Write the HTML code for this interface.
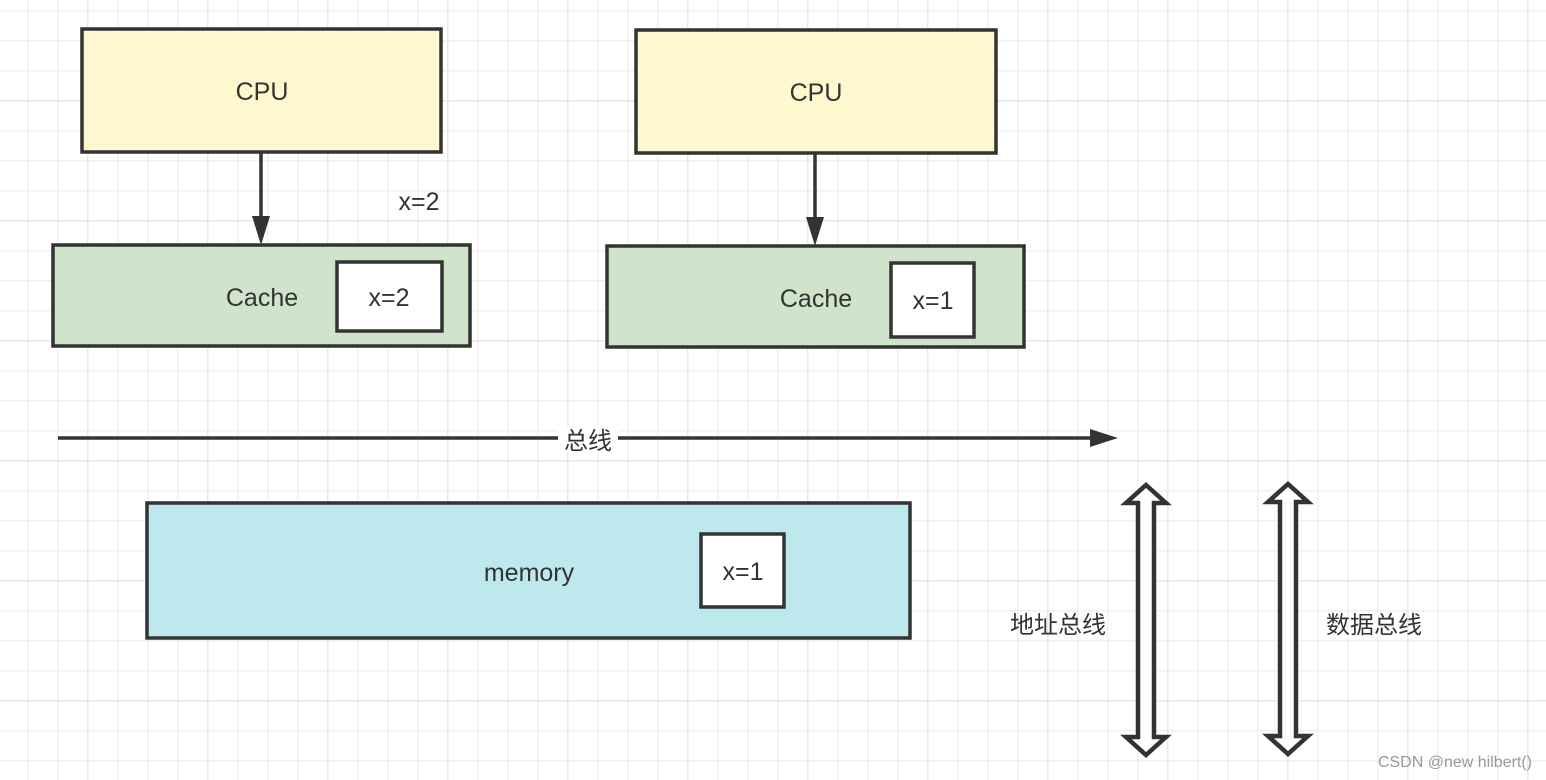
<!DOCTYPE html>
<html><head><meta charset="utf-8"><style>
body{margin:0;width:1546px;height:780px;overflow:hidden;background:#fff;font-family:"Liberation Sans","Noto Sans CJK SC",sans-serif;}
</style></head><body>
<svg width="1546" height="780" xmlns="http://www.w3.org/2000/svg" style="position:absolute;left:0;top:0">
<defs>
<pattern id="minor" x="27" y="10" width="30" height="30" patternUnits="userSpaceOnUse">
<path d="M0 0H30M0 0V30" stroke="#f1f1f1" stroke-width="3" fill="none"/></pattern>
<pattern id="major" x="87" y="100" width="120" height="120" patternUnits="userSpaceOnUse">
<path d="M0 0H120M0 0V120" stroke="#e8e8e8" stroke-width="3" fill="none"/></pattern>
</defs>
<rect width="1546" height="780" fill="url(#minor)"/>
<rect width="1546" height="780" fill="url(#major)"/>
<g stroke="#333" stroke-width="3.5">
<rect x="82" y="29" width="359" height="123" fill="#fff7cd"/>
<rect x="636" y="30" width="360" height="123" fill="#fff7cd"/>
<rect x="53" y="245" width="417" height="101" fill="#d0e4cc"/>
<rect x="607" y="246" width="417" height="101" fill="#d0e4cc"/>
<rect x="337" y="262" width="105" height="69" fill="#fff"/>
<rect x="891" y="263" width="83" height="74" fill="#fff"/>
<rect x="147" y="503" width="763" height="135" fill="#bde8ee"/>
<rect x="701" y="534" width="83" height="73" fill="#fff"/>
<line x1="261" y1="153" x2="261" y2="228"/>
<line x1="815" y1="154" x2="815" y2="229"/>
<line x1="58" y1="438" x2="1095" y2="438"/>
<path d="M1146 485 L1166 503 L1154 503 L1154 737 L1166 737 L1146 755 L1126 737 L1138 737 L1138 503 L1126 503 Z" fill="#fff" stroke-width="4.5" stroke-linejoin="miter"/>
<path d="M1288 484 L1308 502 L1296 502 L1296 736 L1308 736 L1288 754 L1268 736 L1280 736 L1280 502 L1268 502 Z" fill="#fff" stroke-width="4.5" stroke-linejoin="miter"/>
</g>
<g fill="#333">
<path d="M252 216 L270 216 L261 245 Z"/>
<path d="M806 217 L824 217 L815 246 Z"/>
<path d="M1090 429 L1090 447 L1118 438 Z"/>
</g>
<rect x="558" y="426" width="60" height="26" fill="#fff"/>
<g fill="#333" font-size="25" text-anchor="middle">
<text x="262" y="100">CPU</text>
<text x="816" y="101">CPU</text>
<text x="262" y="306">Cache</text>
<text x="816" y="307">Cache</text>
<text x="389" y="306">x=2</text>
<text x="933" y="309">x=1</text>
<text x="419" y="210">x=2</text>
<text x="529" y="581">memory</text>
<text x="743" y="580">x=1</text>
<text x="588" y="449" font-size="24">总线</text>
<text x="1058" y="633" font-size="24">地址总线</text>
<text x="1374" y="633" font-size="24">数据总线</text>
</g>
<text x="1532" y="767" font-size="16" fill="#999" text-anchor="end">CSDN @new hilbert()</text>
</svg>
</body></html>
